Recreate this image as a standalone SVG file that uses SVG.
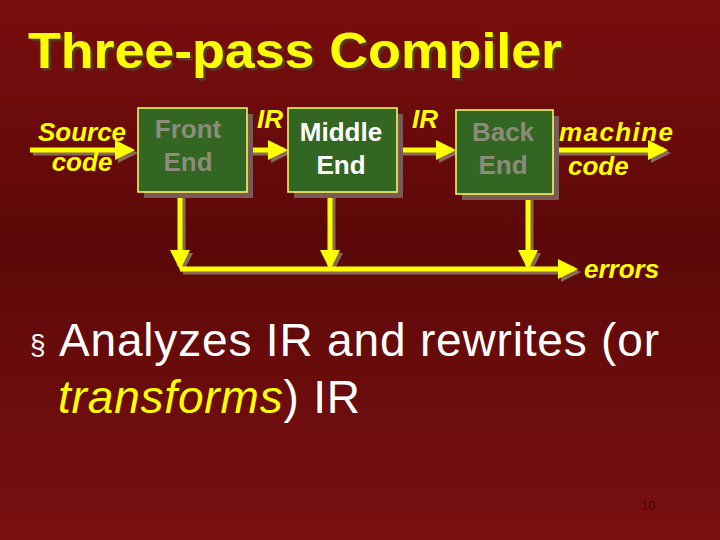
<svg xmlns="http://www.w3.org/2000/svg" width="720" height="540" viewBox="0 0 720 540">
<defs>
<linearGradient id="bg" x1="0" y1="0" x2="0" y2="1">
<stop offset="0" stop-color="#7a0e0e"/>
<stop offset="0.45" stop-color="#5c0808"/>
<stop offset="1" stop-color="#7a1010"/>
</linearGradient>
<filter id="ds" x="-5%" y="-20%" width="110%" height="150%">
<feDropShadow dx="2.5" dy="2.5" stdDeviation="0.3" flood-color="#5a3a20" flood-opacity="1"/>
</filter>
<marker id="ah" markerWidth="4" markerHeight="4" refX="3.2" refY="2" orient="auto" markerUnits="strokeWidth">
<path d="M0,0 L4,2 L0,4 Z" fill="#ffff00"/>
</marker>
<marker id="ahs" markerWidth="4" markerHeight="4" refX="3.2" refY="2" orient="auto" markerUnits="strokeWidth">
<path d="M0,0 L4,2 L0,4 Z" fill="#8a6a5a"/>
</marker>
</defs>
<style>
.box{fill:#336622;stroke:#ffff66;stroke-width:1.5}
.shadow{fill:#7a5a55}
.bt{font-family:"Liberation Sans",Arial,sans-serif;font-weight:bold;font-size:26px;text-anchor:middle}
.lbl{font-family:"Liberation Sans",Arial,sans-serif;font-weight:bold;font-style:italic;font-size:26px;fill:#ffff00}
.ln{stroke:#ffff00;stroke-width:5;fill:none}
.lns{stroke:#8a6a5a;stroke-width:5;fill:none}
</style>
<rect width="720" height="540" fill="url(#bg)"/>
<text x="28" y="68" font-family="Liberation Sans,Arial,sans-serif" font-weight="bold" font-size="50" fill="#ffff00" textLength="534" lengthAdjust="spacingAndGlyphs" filter="url(#ds)">Three-pass Compiler</text>
<g id="connectors">
<g transform="translate(3,3)">
<line class="lns" x1="30" y1="150" x2="131" y2="150" marker-end="url(#ahs)"/>
<line class="lns" x1="247" y1="150" x2="284" y2="150" marker-end="url(#ahs)"/>
<line class="lns" x1="397" y1="150" x2="452" y2="150" marker-end="url(#ahs)"/>
<line class="lns" x1="553" y1="150" x2="664" y2="150" marker-end="url(#ahs)"/>
<line class="lns" x1="180" y1="192" x2="180" y2="266" marker-end="url(#ahs)"/>
<line class="lns" x1="330" y1="192" x2="330" y2="266" marker-end="url(#ahs)"/>
<line class="lns" x1="528" y1="194" x2="528" y2="266" marker-end="url(#ahs)"/>
<line class="lns" x1="180" y1="269" x2="574" y2="269" marker-end="url(#ahs)"/>
</g>
<line class="ln" x1="30" y1="150" x2="131" y2="150" marker-end="url(#ah)"/>
<line class="ln" x1="247" y1="150" x2="284" y2="150" marker-end="url(#ah)"/>
<line class="ln" x1="397" y1="150" x2="452" y2="150" marker-end="url(#ah)"/>
<line class="ln" x1="553" y1="150" x2="664" y2="150" marker-end="url(#ah)"/>
<line class="ln" x1="180" y1="192" x2="180" y2="266" marker-end="url(#ah)"/>
<line class="ln" x1="330" y1="192" x2="330" y2="266" marker-end="url(#ah)"/>
<line class="ln" x1="528" y1="194" x2="528" y2="266" marker-end="url(#ah)"/>
<line class="ln" x1="180" y1="269" x2="574" y2="269" marker-end="url(#ah)"/>
</g>
<g id="source">
<text class="lbl" x="82" y="141" text-anchor="middle">Source</text>
<text class="lbl" x="82" y="171" text-anchor="middle">code</text>
</g>
<g id="front">
<rect class="shadow" x="144" y="114" width="109" height="84"/>
<rect class="box" x="138" y="108" width="109" height="84"/>
<text class="bt" x="188" y="138" fill="#8c8c7a">Front</text>
<text class="bt" x="188" y="171" fill="#8c8c7a">End</text>
</g>
<g id="ir1"><text class="lbl" x="257" y="128">IR</text></g>
<g id="middle">
<rect class="shadow" x="294" y="114" width="109" height="84"/>
<rect class="box" x="288" y="108" width="109" height="84"/>
<text class="bt" x="341" y="141" fill="#ffffff">Middle</text>
<text class="bt" x="341" y="174" fill="#ffffff">End</text>
</g>
<g id="ir2"><text class="lbl" x="412" y="128">IR</text></g>
<g id="back">
<rect class="shadow" x="462" y="116" width="97" height="84"/>
<rect class="box" x="456" y="110" width="97" height="84"/>
<text class="bt" x="503" y="141" fill="#8c8c7a">Back</text>
<text class="bt" x="503" y="174" fill="#8c8c7a">End</text>
</g>
<g id="machine">
<text class="lbl" x="559" y="141" textLength="114">machine</text>
<text class="lbl" x="568" y="175">code</text>
</g>
<g id="errors"><text class="lbl" x="584" y="278">errors</text></g>
<text x="30" y="354" font-family="Liberation Sans,Arial,sans-serif" font-size="28" fill="#ffffff">§</text>
<text x="59" y="356" font-family="Liberation Sans,Arial,sans-serif" font-size="46" fill="#ffffff" textLength="600">Analyzes IR and rewrites (or</text>
<text x="58" y="413" font-family="Liberation Sans,Arial,sans-serif" font-size="46" fill="#ffffff" textLength="302"><tspan font-style="italic" fill="#ffff00">transforms</tspan>) IR</text>
<text x="641" y="510" font-family="Liberation Sans,Arial,sans-serif" font-size="13" fill="#4a0505">10</text>
</svg>
